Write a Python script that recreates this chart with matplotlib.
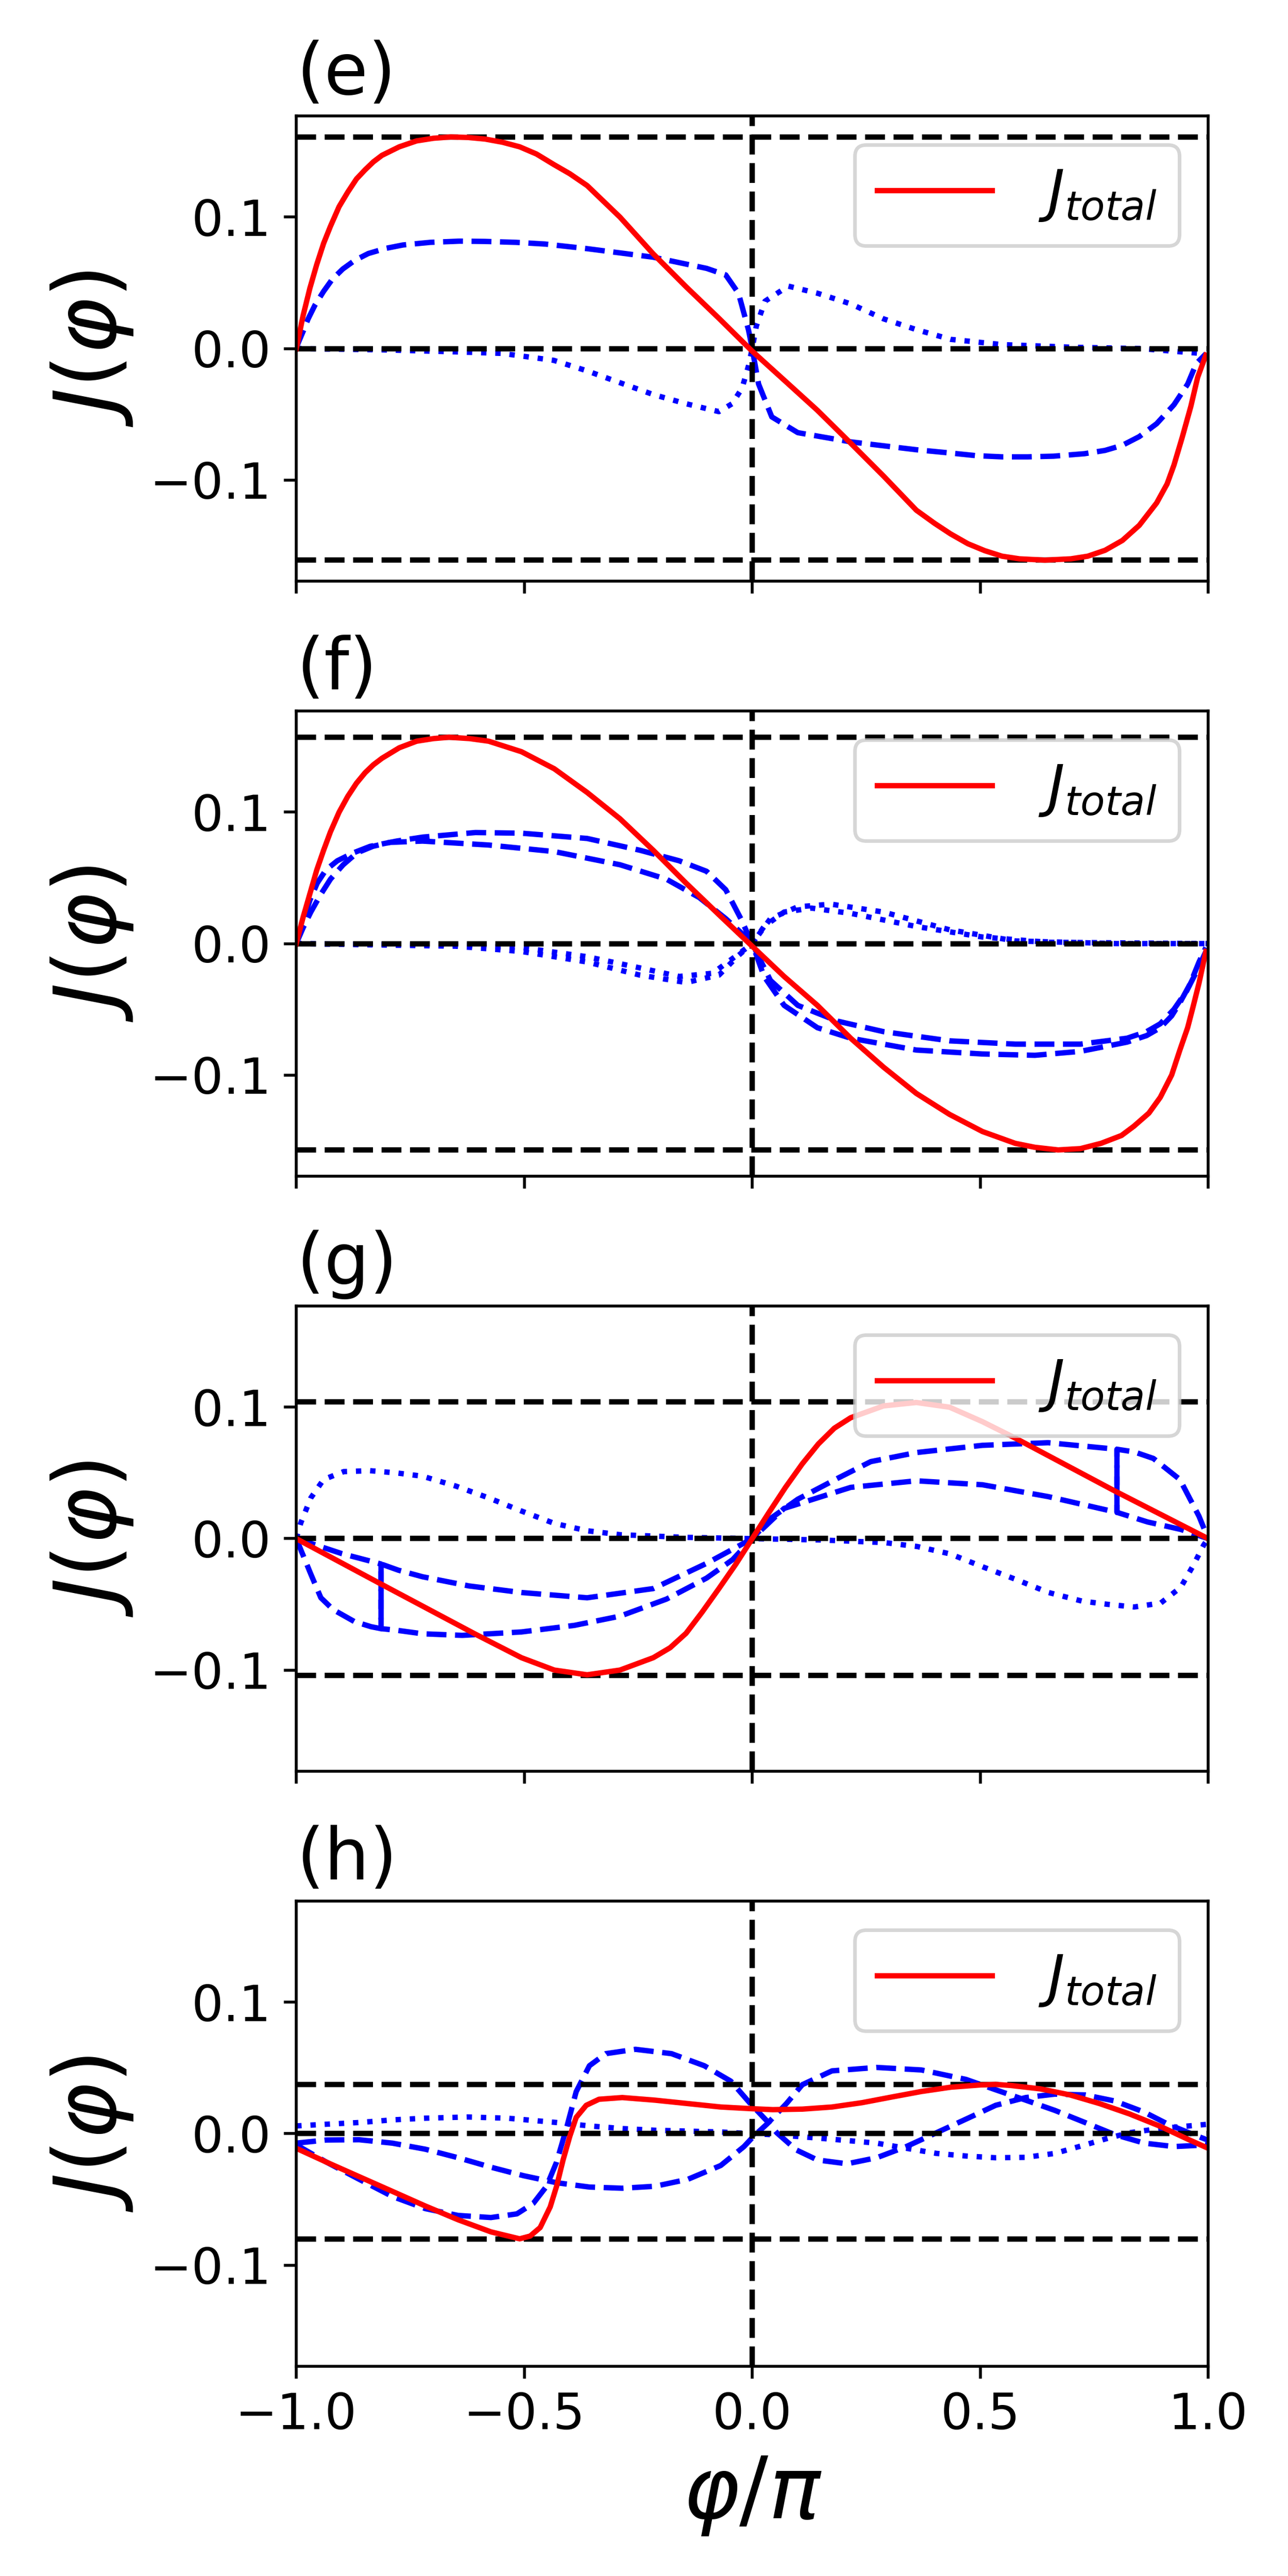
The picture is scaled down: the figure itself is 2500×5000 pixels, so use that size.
import numpy as np
import matplotlib
matplotlib.use("Agg")
import matplotlib.pyplot as plt

# values, x in units of pi
e_red_x = [-1, -0.998, -0.985, -0.97, -0.955, -0.94, -0.925, -0.906, -0.887, -0.868, -0.849, -0.831, -0.812,
           -0.774, -0.736, -0.699, -0.661, -0.623, -0.586, -0.548, -0.51, -0.473, -0.435, -0.40, -0.362,
           -0.29, -0.217, -0.145, -0.073, 0, 0.07, 0.143, 0.216, 0.288, 0.36, 0.40, 0.435, 0.473, 0.51,
           0.548, 0.586, 0.642, 0.699, 0.736, 0.774, 0.812, 0.849, 0.887, 0.91, 0.925, 0.943, 0.962, 0.977,
           0.995]
e_red_y = [0, 0.003, 0.025, 0.046, 0.064, 0.080, 0.093, 0.108, 0.119, 0.129, 0.136, 0.142, 0.147,
           0.1535, 0.158, 0.160, 0.161, 0.1606, 0.1594, 0.157, 0.1535, 0.148, 0.140, 0.133, 0.124,
           0.100, 0.072, 0.047, 0.023, -0.002, -0.024, -0.047, -0.072, -0.097, -0.123, -0.133, -0.141,
           -0.1485, -0.1538, -0.158, -0.160, -0.161, -0.160, -0.158, -0.1535, -0.146, -0.1345, -0.1175,
           -0.103, -0.0887, -0.0677, -0.0441, -0.0219, -0.005]
e_dash_x = [-1, -0.996, -0.985, -0.974, -0.959, -0.94, -0.921, -0.898, -0.872, -0.842, -0.804, -0.766,
            -0.706, -0.642, -0.586, -0.518, -0.454, -0.362, -0.217, -0.10, -0.058, -0.03, -0.008, 0, 0.014,
            0.043, 0.10, 0.216, 0.36, 0.435, 0.491, 0.548, 0.604, 0.661, 0.729, 0.774, 0.812, 0.849, 0.887,
            0.925, 0.955, 0.974, 0.995]
e_dash_y = [0, 0.004, 0.013, 0.0225, 0.033, 0.0435, 0.0527, 0.0605, 0.067, 0.0723, 0.0762, 0.0788,
            0.0808, 0.0817, 0.0815, 0.0808, 0.0795, 0.076, 0.0695, 0.061, 0.056, 0.042, 0.014, 0, -0.027,
            -0.052, -0.064, -0.071, -0.077, -0.0795, -0.0815, -0.0824, -0.0824, -0.0819, -0.080, -0.0775,
            -0.0736, -0.067, -0.0572, -0.0428, -0.0271, -0.0114, -0.004]
e_dot_x = [-1, -0.812, -0.661, -0.548, -0.435, -0.362, -0.29, -0.217, -0.145, -0.073, -0.044, -0.022,
           -0.008, 0, 0.009, 0.028, 0.079, 0.144, 0.216, 0.288, 0.36, 0.435, 0.548, 0.7, 0.85, 0.995]
e_dot_y = [0, -0.001, -0.0024, -0.0037, -0.009, -0.017, -0.026, -0.035, -0.042, -0.048, -0.042, -0.030,
           -0.013, 0, 0.017, 0.036, 0.0475, 0.042, 0.034, 0.0226, 0.0144, 0.007, 0.003, 0.001, 0, -0.004]
e_level = 0.161

f_red_x = [-1, -0.985, -0.97, -0.955, -0.94, -0.925, -0.906, -0.887, -0.868, -0.849, -0.831, -0.812,
           -0.774, -0.736, -0.699, -0.665, -0.62, -0.578, -0.506, -0.434, -0.362, -0.29, -0.217, -0.145,
           -0.073, 0, 0.07, 0.143, 0.216, 0.288, 0.36, 0.433, 0.505, 0.577, 0.62, 0.671, 0.72, 0.765,
           0.81, 0.837, 0.87, 0.895, 0.92, 0.938, 0.955, 0.967, 0.98, 0.995]
f_red_y = [0, 0.020, 0.038, 0.056, 0.071, 0.085, 0.100, 0.112, 0.122, 0.130, 0.136, 0.141,
           0.149, 0.154, 0.156, 0.157, 0.156, 0.154, 0.146, 0.133, 0.115, 0.095, 0.071, 0.046,
           0.022, -0.002, -0.025, -0.047, -0.072, -0.094, -0.114, -0.130, -0.143, -0.152, -0.155,
           -0.157, -0.156, -0.152, -0.146, -0.139, -0.129, -0.117, -0.100, -0.081, -0.064, -0.048,
           -0.030, -0.006]
f_dash1_x = [-1, -0.992, -0.983, -0.97, -0.954, -0.935, -0.91, -0.875, -0.838, -0.78, -0.723, -0.607,
             -0.506, -0.362, -0.246, -0.16, -0.10, -0.058, -0.025, 0, 0.026, 0.07, 0.143, 0.216, 0.36,
             0.505, 0.62, 0.72, 0.822, 0.865, 0.895, 0.92, 0.938, 0.96, 0.98, 0.995]
f_dash1_y = [0, 0.009, 0.019, 0.033, 0.046, 0.056, 0.063, 0.069, 0.074, 0.078, 0.081, 0.0845,
             0.084, 0.080, 0.071, 0.063, 0.055, 0.041, 0.019, 0, -0.025, -0.047, -0.064, -0.072, -0.081,
             -0.084, -0.085, -0.082, -0.075, -0.070, -0.064, -0.055, -0.045, -0.031, -0.014, -0.003]
f_dash2_x = [-1, -0.985, -0.968, -0.947, -0.925, -0.897, -0.867, -0.832, -0.795, -0.723, -0.578, -0.434,
             -0.29, -0.188, -0.116, -0.058, -0.014, 0, 0.04, 0.10, 0.187, 0.288, 0.433, 0.577, 0.72, 0.822,
             0.865, 0.895, 0.925, 0.953, 0.975, 0.995]
f_dash2_y = [0, 0.012, 0.024, 0.037, 0.049, 0.060, 0.069, 0.074, 0.077, 0.078, 0.075, 0.070,
             0.060, 0.049, 0.035, 0.019, 0.005, 0, -0.028, -0.047, -0.059, -0.067, -0.074, -0.0765,
             -0.0765, -0.072, -0.067, -0.061, -0.050, -0.036, -0.021, -0.006]
f_dot1_x = [-1, -0.65, -0.506, -0.362, -0.246, -0.145, -0.073, -0.03, 0, 0.04, 0.10, 0.173, 0.288, 0.433,
            0.577, 0.8, 1.0]
f_dot1_y = [0, -0.002, -0.006, -0.014, -0.024, -0.0296, -0.024, -0.009, 0, 0.019, 0.028, 0.030, 0.024,
            0.0105, 0.002, 0, 0]
f_dot2_x = [-1, -0.65, -0.506, -0.362, -0.246, -0.16, -0.087, -0.03, 0, 0.026, 0.07, 0.13, 0.216, 0.36,
            0.505, 0.649, 1.0]
f_dot2_y = [0, -0.001, -0.003, -0.010, -0.0185, -0.025, -0.0226, -0.008, 0, 0.013, 0.024, 0.027, 0.023,
            0.013, 0.005, 0.001, 0]
f_level = 0.157

g_red_x = [-1, -0.817, -0.607, -0.506, -0.434, -0.362, -0.29, -0.217, -0.18, -0.145, -0.11, -0.073,
           -0.036, 0, 0.036, 0.073, 0.11, 0.145, 0.18, 0.216, 0.288, 0.36, 0.433, 0.505, 0.577, 0.794, 1.0]
g_red_y = [0, -0.034, -0.0727, -0.0906, -0.100, -0.1036, -0.100, -0.0906, -0.083, -0.072, -0.056, -0.038,
           -0.0195, 0, 0.0195, 0.039, 0.057, 0.072, 0.084, 0.092, 0.101, 0.1036, 0.100, 0.089, 0.0765,
           0.0365, 0]
g_dash1_x = [-1, -0.968, -0.946, -0.919, -0.873, -0.836, -0.814, -0.814, -0.776, -0.723, -0.621, -0.506,
             -0.362, -0.217, -0.10, 0, 0.07, 0.216, 0.36, 0.505, 0.649, 0.80, 0.80, 0.838, 0.88, 0.938,
             0.98, 1.0]
g_dash1_y = [0, -0.027, -0.045, -0.054, -0.063, -0.067, -0.0685, -0.0193, -0.024, -0.029, -0.036, -0.041,
             -0.045, -0.038, -0.0188, 0, 0.023, 0.039, 0.044, 0.041, 0.032, 0.020, 0.068, 0.066, 0.061,
             0.045, 0.017, 0]
g_dash2_x = [-1, -0.941, -0.90, -0.844, -0.814, -0.814, -0.78, -0.723, -0.636, -0.506, -0.39, -0.29, -0.188,
             -0.10, -0.043, 0, 0.043, 0.10, 0.188, 0.26, 0.36, 0.505, 0.649, 0.80, 0.80, 0.867, 0.94, 1.0]
g_dash2_y = [0, -0.0067, -0.0114, -0.0165, -0.0193, -0.0685, -0.0697, -0.0724, -0.0736, -0.071, -0.066,
             -0.059, -0.046, -0.030, -0.016, 0, 0.016, 0.030, 0.046, 0.0586, 0.0655, 0.071, 0.073, 0.068,
             0.020, 0.0127, 0.007, 0]
g_dot_x = [-1, -0.99, -0.968, -0.94, -0.896, -0.838, -0.78, -0.723, -0.65, -0.578, -0.506, -0.434, -0.362,
           -0.29, -0.15, 0, 0.15, 0.29, 0.362, 0.434, 0.506, 0.578, 0.65, 0.723, 0.78, 0.838, 0.896, 0.94,
           0.968, 0.99, 1.0]
g_dot_y = [0, 0.012, 0.031, 0.045, 0.051, 0.0517, 0.050, 0.0475, 0.040, 0.031, 0.021, 0.0116, 0.006,
           0.003, 0.001, 0, -0.001, -0.003, -0.006, -0.0116, -0.0215, -0.031, -0.041, -0.0475, -0.050,
           -0.052, -0.049, -0.037, -0.020, -0.005, 0]
g_level = 0.104

h_red_x = [-1, -0.934, -0.862, -0.789, -0.717, -0.645, -0.573, -0.51, -0.487, -0.465, -0.443, -0.429,
           -0.415, -0.4, -0.386, -0.364, -0.336, -0.285, -0.213, -0.141, -0.069, 0, 0.045, 0.11, 0.175,
           0.241, 0.306, 0.371, 0.436, 0.501, 0.534, 0.567, 0.632, 0.697, 0.762, 0.827, 0.893, 0.958, 1.0]
h_red_y = [-0.0111, -0.0216, -0.0327, -0.0439, -0.055, -0.0655, -0.0747, -0.080, -0.0779, -0.0714,
           -0.0557, -0.040, -0.0203, -0.002, 0.0124, 0.0216, 0.0262, 0.0275, 0.0255, 0.0229, 0.0203,
           0.019, 0.0183, 0.0187, 0.0203, 0.0236, 0.0279, 0.0321, 0.0354, 0.0371, 0.0375, 0.0367, 0.0341,
           0.0295, 0.0229, 0.0151, 0.0059, -0.0046, -0.0111]
h_dash1_x = [-1, -0.934, -0.862, -0.789, -0.717, -0.645, -0.573, -0.516, -0.48, -0.451, -0.429, -0.407,
             -0.386, -0.357, -0.321, -0.256, -0.177, -0.105, -0.047, -0.004, 0.032, 0.054, 0.097, 0.143,
             0.208, 0.273, 0.338, 0.404, 0.469, 0.534, 0.6, 0.664, 0.73, 0.795, 0.86, 0.912, 0.958, 1.0]
h_dash1_y = [-0.0085, -0.0216, -0.0347, -0.0478, -0.057, -0.0622, -0.0638, -0.061, -0.053, -0.040,
             -0.0216, 0.0046, 0.032, 0.0517, 0.0609, 0.0642, 0.0609, 0.0517, 0.040, 0.0229, 0.0098,
             0.0007, -0.0124, -0.020, -0.0229, -0.0183, -0.0098, 0.0007, 0.0111, 0.0216, 0.0275, 0.0301,
             0.0295, 0.0249, 0.0164, 0.0072, 0.0007, -0.005]
h_dash2_x = [-1, -0.934, -0.862, -0.789, -0.717, -0.645, -0.573, -0.501, -0.429, -0.357, -0.285, -0.213,
             -0.141, -0.069, -0.018, 0.003, 0.032, 0.075, 0.11, 0.175, 0.273, 0.371, 0.469, 0.534, 0.6,
             0.664, 0.73, 0.795, 0.86, 0.925, 1.0]
h_dash2_y = [-0.0072, -0.0048, -0.0046, -0.0072, -0.0118, -0.0183, -0.0255, -0.032, -0.0373, -0.0406,
             -0.0415, -0.040, -0.0347, -0.0242, -0.0098, -0.002, 0.0072, 0.0229, 0.0373, 0.0478, 0.0504,
             0.0485, 0.0413, 0.0334, 0.0255, 0.0177, 0.0085, -0.0007, -0.0072, -0.0098, -0.0085]
h_dot_x = [-1, -0.934, -0.862, -0.789, -0.717, -0.624, -0.537, -0.429, -0.357, -0.285, -0.213, -0.069, 0,
           0.058, 0.143, 0.208, 0.273, 0.338, 0.404, 0.469, 0.534, 0.6, 0.664, 0.73, 0.782, 0.827, 0.893,
           0.958, 1.0]
h_dot_y = [0.0059, 0.0072, 0.0085, 0.0105, 0.0118, 0.0127, 0.0118, 0.0085, 0.0059, 0.0039, 0.0026, 0.0013,
           0, -0.001, -0.0033, -0.0052, -0.0072, -0.0111, -0.015, -0.017, -0.0183, -0.018, -0.015, -0.0085,
           -0.0033, 0.0007, 0.0039, 0.0059, 0.0072]
h_levels = [0.0375, -0.080]

panels = [
    ("(e)", (e_red_x, e_red_y), [(e_dash_x, e_dash_y)], [(e_dot_x, e_dot_y)], [e_level, -e_level]),
    ("(f)", (f_red_x, f_red_y), [(f_dash1_x, f_dash1_y), (f_dash2_x, f_dash2_y)],
     [(f_dot1_x, f_dot1_y), (f_dot2_x, f_dot2_y)], [f_level, -f_level]),
    ("(g)", (g_red_x, g_red_y), [(g_dash1_x, g_dash1_y), (g_dash2_x, g_dash2_y)], [(g_dot_x, g_dot_y)],
     [g_level, -g_level]),
    ("(h)", (h_red_x, h_red_y), [(h_dash1_x, h_dash1_y), (h_dash2_x, h_dash2_y)], [(h_dot_x, h_dot_y)],
     h_levels),
]

fig, axes = plt.subplots(4, 1, figsize=(5, 10), sharex=True)
fig.subplots_adjust(left=0.23, right=0.938, top=0.955, bottom=0.0814, hspace=0.279)

for ax, (tag, red, dashes, dots, levels) in zip(axes, panels):
    for x, y in dashes:
        ax.plot(x, y, color='b', linestyle='--', lw=1.5)
    for x, y in dots:
        ax.plot(x, y, color='b', linestyle=':', lw=1.5)
    for lev in levels + [0.0]:
        ax.plot([-1, 1], [lev, lev], color='k', linestyle='--', lw=1.5)
    ax.axvline(0, color='k', linestyle='--', lw=1.5)
    ax.plot(red[0], red[1], color='r', lw=1.5, label=r'$J_{total}$')

    ax.set_xlim(-1, 1)
    ax.set_ylim(-0.177, 0.177)
    ax.set_yticks([-0.1, 0.0, 0.1])
    ax.tick_params(labelsize=14)
    ax.set_ylabel(r'$J(\varphi)$', fontsize=24)
    ax.set_title(tag, loc='left', fontsize=20)
    ax.legend(loc='upper right', fontsize=16)

axes[-1].set_xticks([-1.0, -0.5, 0.0, 0.5, 1.0])
axes[-1].set_xlabel(r'$\varphi/\pi$', fontsize=24)

plt.savefig("out.png", dpi=500)
